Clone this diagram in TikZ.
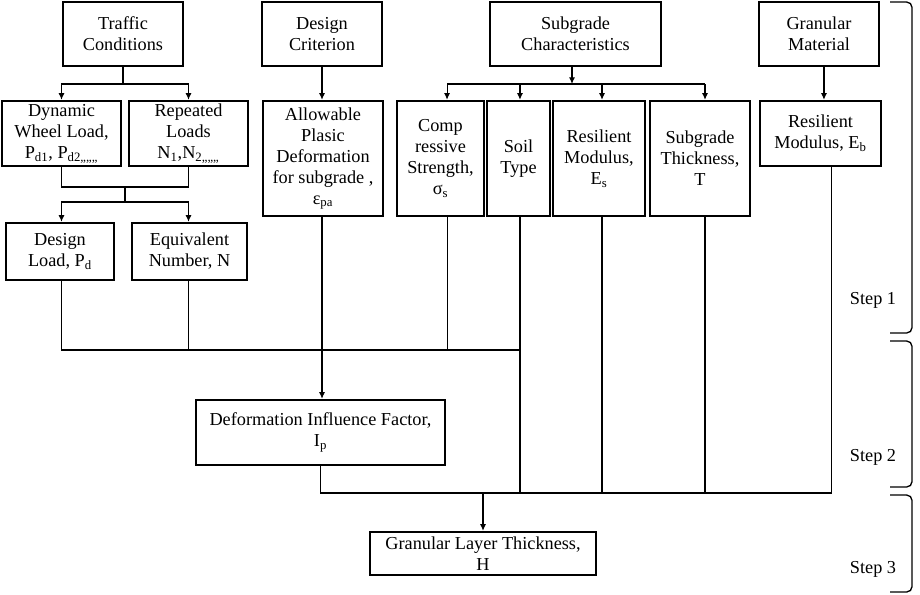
\documentclass[tikz,border=0pt]{standalone}
\usepackage{fontspec}
\setmainfont{Liberation Serif}
\usetikzlibrary{arrows.meta}
\newcommand{\boxfont}{\fontsize{13.7}{15.75}\selectfont}

\begin{document}
\begin{tikzpicture}[x=0.75pt,y=-0.75pt,
	blk/.style={draw, line width=1.8pt, align=center, inner sep=0pt, font=\boxfont},
	ln/.style={line width=0.8pt},
	arr/.style={ln, -{Latex[length=5pt,width=4.5pt]}},
	bracket/.style={line width=1pt, rounded corners=4pt}]
	\useasboundingbox (0,0) rectangle (920,594);
	
	% inputs
	\node[blk, minimum width=90pt, minimum height=48pt] (traffic) at (123,34) {Traffic\\Conditions};
	\node[blk, minimum width=90pt, minimum height=48pt] (crit) at (322,34) {Design\\Criterion};
	\node[blk, minimum width=128.25pt, minimum height=48pt] (sub) at (575.5,34) {Subgrade\\Characteristics};
	\node[blk, minimum width=90pt, minimum height=48pt] (gran) at (819,34) {Granular\\Material};
	
	\node[blk, minimum width=89.25pt, minimum height=48.75pt] (dyn) at (61.5,133.5) {Dynamic\\Wheel Load,\\P\textsubscript{d1}, P\textsubscript{d2,,,,,,}};
	\node[blk, minimum width=89.25pt, minimum height=48.75pt] (rep) at (188.5,133.5) {Repeated\\Loads\\N\textsubscript{1},N\textsubscript{2,,,,,,}};
	\node[blk, minimum width=90pt, minimum height=86.25pt] (allow) at (323,158.5) {Allowable\\Plasic\\Deformation\\for subgrade ,\\ε\textsubscript{pa}};
	\node[blk, minimum width=65.25pt, minimum height=86.25pt] (comp) at (440.5,158.5) {Comp\\ressive\\Strength,\\σ\textsubscript{s}};
	\node[blk, minimum width=47.25pt, minimum height=86.25pt] (soil) at (518.5,158.5) {Soil\\Type};
	\node[blk, minimum width=69pt, minimum height=86.25pt] (es) at (599,158.5) {Resilient\\Modulus,\\E\textsubscript{s}};
	\node[blk, minimum width=75pt, minimum height=86.25pt] (thick) at (700,158.5) {Subgrade\\Thickness,\\T};
	\node[blk, minimum width=90.75pt, minimum height=48.75pt] (eb) at (820.5,133.5) {Resilient\\Modulus, E\textsubscript{b}};
	
	\node[blk, minimum width=81pt, minimum height=42.75pt] (dload) at (60,251.5) {Design\\Load, P\textsubscript{d}};
	\node[blk, minimum width=86.25pt, minimum height=42.75pt] (equiv) at (189.5,251.5) {Equivalent\\Number, N};
	
	% results
	\node[blk, minimum width=186.75pt, minimum height=48.75pt] (deform) at (320.5,432.5) {Deformation Influence Factor,\\I\textsubscript{p}};
	\node[blk, minimum width=169.5pt, minimum height=32.25pt] (layer) at (483,553.5) {Granular Layer Thickness,\\H};
	
	% column positions and buses
	\coordinate (xc) at ([xshift=4.9pt]comp.center);
	\coordinate (xs) at ([xshift=1.1pt]soil.center);
	\coordinate (xe) at ([xshift=2.25pt]es.center);
	\coordinate (xt) at ([xshift=3.75pt]thick.center);
	\coordinate (xg) at ([xshift=2.6pt]eb.center);
	\coordinate (xb) at ([xshift=7.9pt]eb.center);
	\coordinate (tj) at (123,84);
	\coordinate (lj) at (125,187);
	\coordinate (lk) at (125,202);
	\coordinate (sj) at (572,84);
	\coordinate (jn) at (0,350);
	\coordinate (bt) at (0,493);
	
	% traffic branch
	\draw[ln] (traffic.south) -- (tj);
	\draw[arr] (tj) -| (dyn.north);
	\draw[arr] (tj) -| (rep.north);
	\draw[ln] (dyn.south) |- (lj) -| (rep.south);
	\draw[ln] (lj) -- (lk);
	\draw[arr] (lk) -| (dload.north -| dyn.south);
	\draw[arr] (lk) -| (equiv.north -| rep.south);
	
	% criterion branch
	\draw[arr] (crit.south) -- (crit.south |- allow.north);
	\draw[arr] (crit.south |- allow.south) -- (crit.south |- deform.north);
	
	% subgrade branch
	\draw[arr] (sub.south -| sj) -- (sj);
	\draw[ln] (xc |- sj) -- (xt |- sj);
	\draw[arr] (xc |- sj) -- (xc |- comp.north);
	\draw[arr] (xs |- sj) -- (xs |- soil.north);
	\draw[arr] (xe |- sj) -- (xe |- es.north);
	\draw[arr] (xt |- sj) -- (xt |- thick.north);
	
	% granular branch
	\draw[arr] (xg |- gran.south) -- (xg |- eb.north);
	
	% to deformation factor
	\draw[ln] (dyn.south |- dload.south) |- (xs |- jn);
	\draw[ln] (rep.south |- equiv.south) -- (rep.south |- jn);
	\draw[ln] (xc |- comp.south) -- (xc |- jn);
	
	% to layer thickness
	\draw[ln] (deform.south) |- (xb |- bt) -- (xb |- eb.south);
	\draw[ln] (xs |- soil.south) -- (xs |- bt);
	\draw[ln] (xe |- es.south) -- (xe |- bt);
	\draw[ln] (xt |- thick.south) -- (xt |- bt);
	\draw[arr] (layer.north |- bt) -- (layer.north);
	
	% steps
	\draw[bracket] (890,2) -- (912,2) -- (912,333) -- (890,333);
	\draw[bracket] (890,341) -- (912,341) -- (912,487) -- (890,487);
	\draw[bracket] (890,495) -- (912,495) -- (912,592) -- (890,592);
	\node[font=\boxfont] (step1) at (873,300) {Step 1};
	\node[font=\boxfont] (step2) at (873,457) {Step 2};
	\node[font=\boxfont] (step3) at (873,569) {Step 3};
\end{tikzpicture}
\end{document}
